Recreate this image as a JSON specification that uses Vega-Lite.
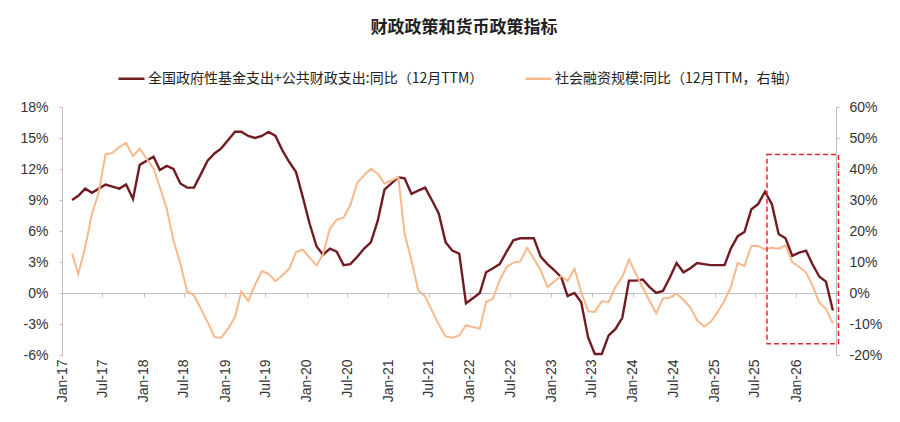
{
  "$schema": "https://vega.github.io/schema/vega-lite/v6.json",
  "autosize": {"type": "none"},
  "width": 774,
  "height": 248,
  "padding": {"left": 62, "top": 107, "right": 64, "bottom": 67},
  "background": "white",
  "title": {
    "text": "财政政策和货币政策指标",
    "font": "Noto Sans CJK SC",
    "fontSize": 17,
    "fontWeight": "bold",
    "color": "#222222",
    "anchor": "middle",
    "frame": "group",
    "dx": 15,
    "offset": 27
  },
  "config": {
    "view": {"stroke": null},
    "axis": {
      "labelFont": "Liberation Sans",
      "labelFontSize": 14,
      "labelColor": "#333333",
      "domainColor": "#BFBFBF",
      "tickColor": "#BFBFBF",
      "grid": false,
      "title": null
    },
    "legend": {
      "orient": "none",
      "legendX": 55,
      "legendY": -43,
      "direction": "horizontal",
      "title": null,
      "symbolType": "stroke",
      "symbolSize": 676,
      "symbolStrokeWidth": 2.5,
      "labelOffset": 2,
      "columnPadding": 36,
      "labelFont": "Noto Sans CJK SC",
      "labelFontSize": 14,
      "labelColor": "#222222",
      "labelLimit": 600
    }
  },
  "data": {
    "values": [
      {"d": "2017-02-15", "a": 9.0, "b": 12.7},
      {"d": "2017-03-15", "a": 9.4, "b": 6.2},
      {"d": "2017-04-15", "a": 10.1, "b": 14.8},
      {"d": "2017-05-15", "a": 9.7, "b": 25.6},
      {"d": "2017-06-15", "a": 10.1, "b": 32.6},
      {"d": "2017-07-15", "a": 10.5, "b": 44.7},
      {"d": "2017-08-15", "a": 10.3, "b": 45.2},
      {"d": "2017-09-15", "a": 10.1, "b": 47.1},
      {"d": "2017-10-15", "a": 10.5, "b": 48.4},
      {"d": "2017-11-15", "a": 9.1, "b": 44.2},
      {"d": "2017-12-15", "a": 12.4, "b": 46.6},
      {"d": "2018-01-15", "a": 12.8, "b": 43.3},
      {"d": "2018-02-15", "a": 13.2, "b": 40.1},
      {"d": "2018-03-15", "a": 11.9, "b": 34.2},
      {"d": "2018-04-15", "a": 12.3, "b": 27.2},
      {"d": "2018-05-15", "a": 12.0, "b": 17.0},
      {"d": "2018-06-15", "a": 10.6, "b": 9.5},
      {"d": "2018-07-15", "a": 10.2, "b": 0.6},
      {"d": "2018-08-15", "a": 10.2, "b": -0.8},
      {"d": "2018-09-15", "a": 11.5, "b": -5.1},
      {"d": "2018-10-15", "a": 12.8, "b": -9.4},
      {"d": "2018-11-15", "a": 13.5, "b": -14.2},
      {"d": "2018-12-15", "a": 14.0, "b": -14.4},
      {"d": "2019-01-15", "a": 14.8, "b": -11.5},
      {"d": "2019-02-15", "a": 15.6, "b": -7.7},
      {"d": "2019-03-15", "a": 15.6, "b": 0.5},
      {"d": "2019-04-15", "a": 15.2, "b": -2.6},
      {"d": "2019-05-15", "a": 15.0, "b": 2.5},
      {"d": "2019-06-15", "a": 15.2, "b": 7.1},
      {"d": "2019-07-15", "a": 15.6, "b": 6.2},
      {"d": "2019-08-15", "a": 15.2, "b": 3.8},
      {"d": "2019-09-15", "a": 13.8, "b": 5.7},
      {"d": "2019-10-15", "a": 12.7, "b": 7.8},
      {"d": "2019-11-15", "a": 11.7, "b": 13.2},
      {"d": "2019-12-15", "a": 9.3, "b": 14.0},
      {"d": "2020-01-15", "a": 6.7, "b": 11.4},
      {"d": "2020-02-15", "a": 4.5, "b": 8.9},
      {"d": "2020-03-15", "a": 3.7, "b": 12.5},
      {"d": "2020-04-15", "a": 4.3, "b": 20.8},
      {"d": "2020-05-15", "a": 4.0, "b": 23.7},
      {"d": "2020-06-15", "a": 2.7, "b": 24.3},
      {"d": "2020-07-15", "a": 2.8, "b": 28.3},
      {"d": "2020-08-15", "a": 3.5, "b": 35.5},
      {"d": "2020-09-15", "a": 4.3, "b": 38.0},
      {"d": "2020-10-15", "a": 4.9, "b": 40.1},
      {"d": "2020-11-15", "a": 7.0, "b": 38.5},
      {"d": "2020-12-15", "a": 10.0, "b": 35.3},
      {"d": "2021-01-15", "a": 10.6, "b": 36.3},
      {"d": "2021-02-15", "a": 11.2, "b": 37.4},
      {"d": "2021-03-15", "a": 11.1, "b": 19.1},
      {"d": "2021-04-15", "a": 9.6, "b": 10.5},
      {"d": "2021-05-15", "a": 9.9, "b": 0.9},
      {"d": "2021-06-15", "a": 10.2, "b": -1.1},
      {"d": "2021-07-15", "a": 9.0, "b": -5.6},
      {"d": "2021-08-15", "a": 7.7, "b": -10.1},
      {"d": "2021-09-15", "a": 4.9, "b": -14.0},
      {"d": "2021-10-15", "a": 4.1, "b": -14.4},
      {"d": "2021-11-15", "a": 3.8, "b": -13.7},
      {"d": "2021-12-15", "a": -1.0, "b": -10.4},
      {"d": "2022-01-15", "a": -0.5, "b": -11.0},
      {"d": "2022-02-15", "a": 0.0, "b": -11.5},
      {"d": "2022-03-15", "a": 2.0, "b": -2.9},
      {"d": "2022-04-15", "a": 2.4, "b": -1.8},
      {"d": "2022-05-15", "a": 2.8, "b": 4.1},
      {"d": "2022-06-15", "a": 4.0, "b": 8.4},
      {"d": "2022-07-15", "a": 5.1, "b": 9.8},
      {"d": "2022-08-15", "a": 5.3, "b": 10.2},
      {"d": "2022-09-15", "a": 5.3, "b": 14.5},
      {"d": "2022-10-15", "a": 5.3, "b": 11.1},
      {"d": "2022-11-15", "a": 3.5, "b": 7.3},
      {"d": "2022-12-15", "a": 2.8, "b": 1.9},
      {"d": "2023-01-15", "a": 2.2, "b": 3.8},
      {"d": "2023-02-15", "a": 1.5, "b": 5.5},
      {"d": "2023-03-15", "a": -0.3, "b": 3.9},
      {"d": "2023-04-15", "a": 0.0, "b": 7.8},
      {"d": "2023-05-15", "a": -0.9, "b": 0.3},
      {"d": "2023-06-15", "a": -4.3, "b": -5.9},
      {"d": "2023-07-15", "a": -5.9, "b": -6.1},
      {"d": "2023-08-15", "a": -5.9, "b": -2.7},
      {"d": "2023-09-15", "a": -4.1, "b": -2.9},
      {"d": "2023-10-15", "a": -3.5, "b": 1.9},
      {"d": "2023-11-15", "a": -2.4, "b": 5.2},
      {"d": "2023-12-15", "a": 1.2, "b": 10.8},
      {"d": "2024-01-15", "a": 1.2, "b": 6.2},
      {"d": "2024-02-15", "a": 1.3, "b": 1.7},
      {"d": "2024-03-15", "a": 0.6, "b": -2.4},
      {"d": "2024-04-15", "a": 0.0, "b": -6.5},
      {"d": "2024-05-15", "a": 0.2, "b": -1.8},
      {"d": "2024-06-15", "a": 1.5, "b": -1.5},
      {"d": "2024-07-15", "a": 2.9, "b": -0.2},
      {"d": "2024-08-15", "a": 2.0, "b": -2.2},
      {"d": "2024-09-15", "a": 2.4, "b": -4.7},
      {"d": "2024-10-15", "a": 2.9, "b": -8.8},
      {"d": "2024-11-15", "a": 2.8, "b": -10.8},
      {"d": "2024-12-15", "a": 2.7, "b": -9.4},
      {"d": "2025-01-15", "a": 2.7, "b": -6.1},
      {"d": "2025-02-15", "a": 2.7, "b": -2.4},
      {"d": "2025-03-15", "a": 4.3, "b": 1.9},
      {"d": "2025-04-15", "a": 5.5, "b": 9.7},
      {"d": "2025-05-15", "a": 5.9, "b": 8.7},
      {"d": "2025-06-15", "a": 8.1, "b": 15.2},
      {"d": "2025-07-15", "a": 8.6, "b": 15.2},
      {"d": "2025-08-15", "a": 9.8, "b": 14.1},
      {"d": "2025-09-15", "a": 8.6, "b": 14.6},
      {"d": "2025-10-15", "a": 5.7, "b": 14.3},
      {"d": "2025-11-15", "a": 5.3, "b": 15.4},
      {"d": "2025-12-15", "a": 3.6, "b": 10.0},
      {"d": "2026-01-15", "a": 3.9, "b": 8.4},
      {"d": "2026-02-15", "a": 4.1, "b": 6.6},
      {"d": "2026-03-15", "a": 2.8, "b": 2.5},
      {"d": "2026-04-15", "a": 1.6, "b": -3.1},
      {"d": "2026-05-15", "a": 1.1, "b": -5.1},
      {"d": "2026-06-15", "a": -1.7, "b": -9.9}
    ]
  },
  "layer": [
    {
      "mark": {"type": "line", "strokeWidth": 2.4},
      "encoding": {
        "x": {
          "field": "d",
          "type": "temporal",
          "scale": {
            "type": "utc",
            "domain": [
              {"year": 2017, "month": 1, "date": 1, "utc": true},
              {"year": 2026, "month": 6, "date": 29, "utc": true}
            ]
          },
          "axis": {
            "orient": "bottom",
            "values": [
              {"year": 2017, "month": 1, "date": 1, "utc": true},
              {"year": 2017, "month": 7, "date": 1, "utc": true},
              {"year": 2018, "month": 1, "date": 1, "utc": true},
              {"year": 2018, "month": 7, "date": 1, "utc": true},
              {"year": 2019, "month": 1, "date": 1, "utc": true},
              {"year": 2019, "month": 7, "date": 1, "utc": true},
              {"year": 2020, "month": 1, "date": 1, "utc": true},
              {"year": 2020, "month": 7, "date": 1, "utc": true},
              {"year": 2021, "month": 1, "date": 1, "utc": true},
              {"year": 2021, "month": 7, "date": 1, "utc": true},
              {"year": 2022, "month": 1, "date": 1, "utc": true},
              {"year": 2022, "month": 7, "date": 1, "utc": true},
              {"year": 2023, "month": 1, "date": 1, "utc": true},
              {"year": 2023, "month": 7, "date": 1, "utc": true},
              {"year": 2024, "month": 1, "date": 1, "utc": true},
              {"year": 2024, "month": 7, "date": 1, "utc": true},
              {"year": 2025, "month": 1, "date": 1, "utc": true},
              {"year": 2025, "month": 7, "date": 1, "utc": true},
              {"year": 2026, "month": 1, "date": 1, "utc": true}
            ],
            "labelExpr": "utcFormat(datum.value, '%b-%y')",
            "labelAngle": -90,
            "labelPadding": 4,
            "labelOverlap": false,
            "domain": false,
            "ticks": false
          }
        },
        "y": {
          "field": "a",
          "type": "quantitative",
          "scale": {"domain": [-6, 18], "nice": false, "zero": false},
          "axis": {
            "orient": "left",
            "values": [-6, -3, 0, 3, 6, 9, 12, 15, 18],
            "labelExpr": "datum.value + '%'",
            "tickSize": 3,
            "labelPadding": 11
          }
        },
        "color": {
          "datum": "全国政府性基金支出+公共财政支出:同比（12月TTM）",
          "scale": {
            "domain": ["全国政府性基金支出+公共财政支出:同比（12月TTM）", "社会融资规模:同比（12月TTM，右轴）"],
            "range": ["#701C22", "#F6B98B"]
          }
        }
      }
    },
    {
      "mark": {"type": "line", "strokeWidth": 2},
      "encoding": {
        "x": {
          "field": "d",
          "type": "temporal",
          "scale": {
            "type": "utc",
            "domain": [
              {"year": 2017, "month": 1, "date": 1, "utc": true},
              {"year": 2026, "month": 6, "date": 29, "utc": true}
            ]
          },
          "axis": {
            "orient": "bottom",
            "offset": -62,
            "values": [
              {"year": 2017, "month": 7, "date": 1, "utc": true},
              {"year": 2018, "month": 1, "date": 1, "utc": true},
              {"year": 2018, "month": 7, "date": 1, "utc": true},
              {"year": 2019, "month": 1, "date": 1, "utc": true},
              {"year": 2019, "month": 7, "date": 1, "utc": true},
              {"year": 2020, "month": 1, "date": 1, "utc": true},
              {"year": 2020, "month": 7, "date": 1, "utc": true},
              {"year": 2021, "month": 1, "date": 1, "utc": true},
              {"year": 2021, "month": 7, "date": 1, "utc": true},
              {"year": 2022, "month": 1, "date": 1, "utc": true},
              {"year": 2022, "month": 7, "date": 1, "utc": true},
              {"year": 2023, "month": 1, "date": 1, "utc": true},
              {"year": 2023, "month": 7, "date": 1, "utc": true},
              {"year": 2024, "month": 1, "date": 1, "utc": true},
              {"year": 2024, "month": 7, "date": 1, "utc": true},
              {"year": 2025, "month": 1, "date": 1, "utc": true},
              {"year": 2025, "month": 7, "date": 1, "utc": true},
              {"year": 2026, "month": 1, "date": 1, "utc": true}
            ],
            "labels": false,
            "tickSize": 4,
            "zindex": 0
          }
        },
        "y": {
          "field": "b",
          "type": "quantitative",
          "scale": {"domain": [-20, 60], "nice": false, "zero": false},
          "axis": {
            "orient": "right",
            "values": [-20, -10, 0, 10, 20, 30, 40, 50, 60],
            "labelExpr": "datum.value + '%'",
            "tickSize": 3,
            "labelPadding": 10
          }
        },
        "color": {"datum": "社会融资规模:同比（12月TTM，右轴）"}
      }
    },
    {
      "data": {"values": [{"x0": "2025-08-24", "x1": "2026-07-10", "y0": -4.9, "y1": 13.4}]},
      "mark": {"type": "rect", "fill": "transparent", "stroke": "#E8262A", "strokeWidth": 1.5, "strokeDash": [5, 3]},
      "encoding": {
        "x": {
          "field": "x0",
          "type": "temporal",
          "scale": {
            "type": "utc",
            "domain": [
              {"year": 2017, "month": 1, "date": 1, "utc": true},
              {"year": 2026, "month": 6, "date": 29, "utc": true}
            ]
          },
          "axis": null
        },
        "x2": {"field": "x1"},
        "y": {
          "field": "y0",
          "type": "quantitative",
          "scale": {"domain": [-6, 18], "nice": false, "zero": false},
          "axis": null
        },
        "y2": {"field": "y1"}
      }
    }
  ],
  "resolve": {
    "scale": {"y": "independent"},
    "axis": {"x": "independent", "y": "independent"}
  }
}
